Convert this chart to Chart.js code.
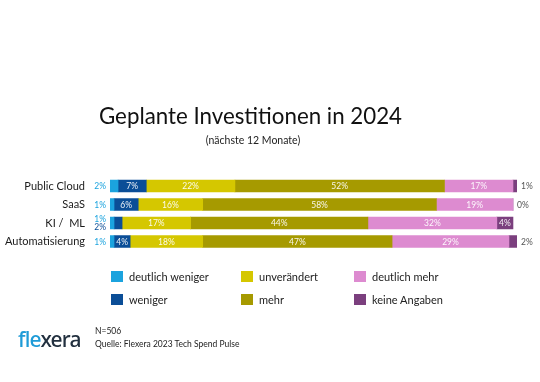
<!DOCTYPE html>
<html lang="de">
<head>
<meta charset="utf-8">
<script src="https://cdn.jsdelivr.net/npm/chart.js@4/dist/chart.umd.min.js"></script>
<style>
  html, body { margin: 0; padding: 0; background: #ffffff; }
  body { width: 540px; height: 382px; position: relative; overflow: hidden; font-family: Lato, "Open Sans", sans-serif; color: #1a1a1a; }
  #chart { position: absolute; left: 0; top: 0; }
  .abs { position: absolute; white-space: nowrap; line-height: 1; }
  #title { left: 0; width: 501px; text-align: center; top: 105px; font-size: 22.3px; color: #111; }
  #subtitle { left: 0; width: 506px; text-align: center; top: 134.7px; font-size: 10.5px; color: #222; }
  .leg { position: absolute; font-size: 11px; color: #222; line-height: 1; }
  .leg .box { position: absolute; left: 0; top: 0; width: 12px; height: 11px; }
  .leg .txt { position: absolute; left: 18px; top: 0px; white-space: nowrap; }
  #logo { left: 18px; top: 329px; font-size: 21px; font-family: "Noto Sans", sans-serif; font-weight: 500; letter-spacing: -0.8px; }
  #logo .a { color: #1f9bd7; }
  #logo .b { color: #22303f; }
  #n { left: 95px; top: 327px; font-size: 8.5px; color: #222; }
  #src { left: 95px; top: 339.5px; font-size: 8.5px; color: #222; }
</style>
</head>
<body>
<canvas id="chart" width="540" height="382"></canvas>
<div class="abs" id="title">Geplante Investitionen in 2024</div>
<div class="abs" id="subtitle">(nächste 12 Monate)</div>
<div id="legend"></div>
<div class="abs" id="logo"><span class="a">fle</span><span class="b">xera</span></div>
<div class="abs" id="n">N=506</div>
<div class="abs" id="src">Quelle: Flexera 2023 Tech Spend Pulse</div>
<script>
// ---- data ----
const categories = ["Public Cloud", "SaaS", "KI /  ML", "Automatisierung"];
const seriesNames = ["deutlich weniger", "weniger", "unverändert", "mehr", "deutlich mehr", "keine Angaben"];
const deutlichWeniger = [2, 1, 1, 1];
const weniger = [7, 6, 2, 4];
const unveraendert = [22, 16, 17, 18];
const mehr = [52, 58, 44, 47];
const deutlichMehr = [17, 19, 32, 29];
const keineAngaben = [1, 0, 4, 2];
const seriesColors = ["#1ba3de", "#0b4e97", "#d5c700", "#a69a00", "#dd8bd0", "#7b3f7e"];

const seriesValues = [deutlichWeniger, weniger, unveraendert, mehr, deutlichMehr, keineAngaben];

// ---- legend (HTML, column-major 2 rows x 3 cols) ----
const legendCols = [111, 241, 354];
const legendRows = [271, 294];
const legendEl = document.getElementById('legend');
seriesNames.forEach((name, i) => {
  const col = Math.floor(i / 2), row = i % 2;
  const d = document.createElement('div');
  d.className = 'leg';
  d.style.left = legendCols[col] + 'px';
  d.style.top = legendRows[row] + 'px';
  d.innerHTML = '<span class="box" style="background:' + seriesColors[i] + '"></span><span class="txt">' + name + '</span>';
  legendEl.appendChild(d);
});

// ---- data label plugin ----
const labelPlugin = {
  id: 'segLabels',
  afterDatasetsDraw(chart) {
    const ctx = chart.ctx;
    ctx.save();
    ctx.font = '8.5px Lato, sans-serif';
    ctx.textBaseline = 'middle';
    const n = chart.data.labels.length;
    for (let j = 0; j < n; j++) {
      const smallLeft0 = chart.data.datasets[0].data[j] < 3;
      const smallLeft1 = chart.data.datasets[1].data[j] < 3;
      chart.data.datasets.forEach((ds, i) => {
        const meta = chart.getDatasetMeta(i);
        const bar = meta.data[j];
        const v = ds.data[j];
        const txt = v + '%';
        const left = Math.min(bar.x, bar.base);
        const right = Math.max(bar.x, bar.base);
        if (v >= 3) {
          ctx.fillStyle = 'rgba(255,255,255,0.92)';
          ctx.textAlign = 'center';
          ctx.fillText(txt, (left + right) / 2, bar.y + 0.5);
        } else if (i === 0) {
          ctx.fillStyle = seriesColors[0];
          ctx.textAlign = 'right';
          const dy = smallLeft1 ? -4 : 0;
          ctx.fillText(txt, chart.chartArea.left - 4, bar.y + dy + 0.5);
        } else if (i === 1) {
          ctx.fillStyle = seriesColors[1];
          ctx.textAlign = 'right';
          const dy = smallLeft0 ? 4 : 0;
          ctx.fillText(txt, chart.chartArea.left - 4, bar.y + dy + 0.5);
        } else if (i === chart.data.datasets.length - 1) {
          ctx.fillStyle = '#555555';
          ctx.textAlign = 'left';
          ctx.fillText(txt, right + 4, bar.y + 0.5);
        }
      });
    }
    ctx.restore();
  }
};

new Chart(document.getElementById('chart'), {
  type: 'bar',
  data: {
    labels: categories,
    datasets: seriesNames.map((name, i) => ({
      label: name,
      data: seriesValues[i],
      backgroundColor: seriesColors[i],
      borderWidth: 0,
      barThickness: 12
    }))
  },
  options: {
    indexAxis: 'y',
    responsive: false,
    animation: false,
    devicePixelRatio: 1,
    layout: { padding: { left: 0, right: 23, top: 176.75, bottom: 131.25 } },
    plugins: {
      legend: { display: false },
      title: { display: false },
      tooltip: { enabled: false }
    },
    scales: {
      x: { stacked: true, display: false, min: 0, max: 101 },
      y: {
        stacked: true,
        grid: { display: false, drawTicks: false },
        border: { display: false },
        ticks: { padding: 25, color: '#1a1a1a', font: { family: 'Lato', size: 11 } },
        afterFit(scale) { scale.width = 110; }
      }
    }
  },
  plugins: [labelPlugin]
});
</script>
</body>
</html>
